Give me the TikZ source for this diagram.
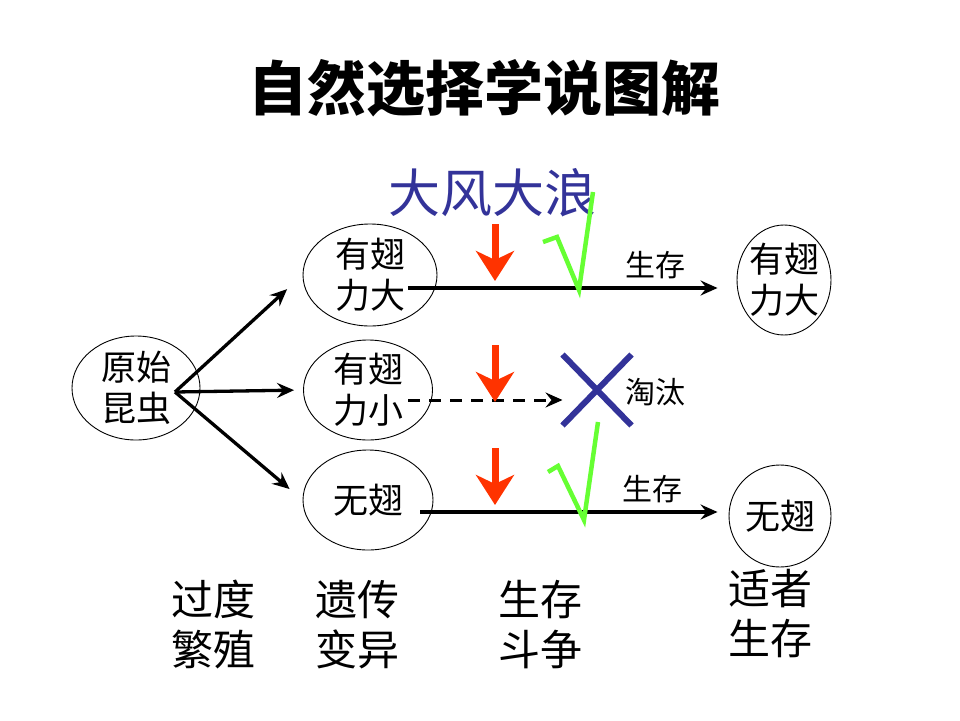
\documentclass[tikz,border=0pt]{standalone}
\usepackage{fontspec}
\setmainfont{Noto Sans CJK SC}
\usetikzlibrary{arrows.meta,positioning,shapes.geometric,shapes.misc}
\definecolor{selBlue}{HTML}{333399}
\definecolor{selRed}{HTML}{FF3300}
\definecolor{selGreen}{HTML}{66FF33}
\tikzset{
  bug/.style={ellipse, draw=black, line width=0.9pt, inner sep=0pt},
  bugtext/.style={font=\fontsize{35}{41}\selectfont, align=center, inner sep=0pt},
  arrk/.style={-{Stealth[length=17pt,width=15pt,inset=6pt]}, line width=3.3pt},
  arrd/.style={arrk, line width=3pt, dash pattern=on 12pt off 9pt},
  hit/.style={-{Stealth[length=30pt,width=38pt,inset=9pt]}, line width=7pt, draw=selRed},
  tick/.style={draw=selGreen, line width=4.5pt, line join=miter},
  small/.style={font=\fontsize{30}{32}\selectfont, inner sep=0pt},
  stage/.style={font=\fontsize{42}{50}\selectfont, align=center, inner sep=0pt},
  gone/.style={cross out, draw=selBlue, line width=6pt, minimum width=63pt, minimum height=65pt, inner sep=0pt}
}
\begin{document}
\begin{tikzpicture}[x=1pt,y=-1pt]
  \useasboundingbox (0,0) rectangle (960,720);
  \node[font=\fontsize{59}{60}\selectfont\bfseries] (title) at (484,88) {自然选择学说图解};
  \node[font=\fontsize{52}{54}\selectfont, text=selBlue] (wind) at (492,193) {大风大浪};
  % insects
  \node[bug, minimum width=128pt, minimum height=104pt, label={[bugtext]center:原始\\昆虫}] (orig) at (136,388) {};
  \node[bug, minimum width=134pt, minimum height=102pt, label={[bugtext]center:有翅\\力大}] (strong) at (370,275) {};
  \node[bug, minimum width=129pt, minimum height=100pt, label={[bugtext]center:有翅\\力小}] (weak) at (368,390) {};
  \node[bug, minimum width=130pt, minimum height=100pt, label={[bugtext]center:无翅}] (wingless) at (368,500) {};
  \node[bug, minimum width=94pt, minimum height=110pt, label={[bugtext]center:有翅\\力大}] (strongR) at (784,280) {};
  \node[bug, minimum width=102pt, minimum height=102pt, label={[bugtext]center:无翅}] (winglessR) at (780,516) {};
  \node[gone] (out) at (597,390) {};
  \node[small] (elim) at (655,392) {淘汰};
  % variation
  \coordinate (fork) at (175,392);
  \foreach \t/\s in {strong/21pt, weak/9pt, wingless/17pt}
    \draw[arrk, shorten >=\s] (fork) -- (\t.west);
  % selection
  \draw[arrk] ([shift={(38,13)}]strong.center) coordinate (s1) -- ([xshift=-19pt]strongR.west |- s1)
    node[small, pos=0.8, above=7pt] (live1) {生存};
  \draw[arrd] ([shift={(40,10)}]weak.center) coordinate (s2) -- (out.west |- s2);
  \draw[arrk] ([shift={(52,12)}]wingless.center) coordinate (s3) -- ([xshift=-11pt]winglessR.west |- s3)
    node[small, pos=0.78, above=7pt] (live2) {生存};
  \foreach \y in {224,345,448}
    \draw[hit] (495,\y) -- ++(0,57);
  \draw[tick] (543,242) -- (557,237) -- (579,290) -- (593,192);
  \draw[tick] (548,472) -- (558,466) -- (584,520) -- (598,422);
  % stages
  \node[stage] (breed) at (213,625) {过度\\繁殖};
  \node[stage] (vary) at (357,625) {遗传\\变异};
  \node[stage] (fight) at (540,625) {生存\\斗争};
  \node[stage] (fit) at (770,614) {适者\\生存};
\end{tikzpicture}
\end{document}
